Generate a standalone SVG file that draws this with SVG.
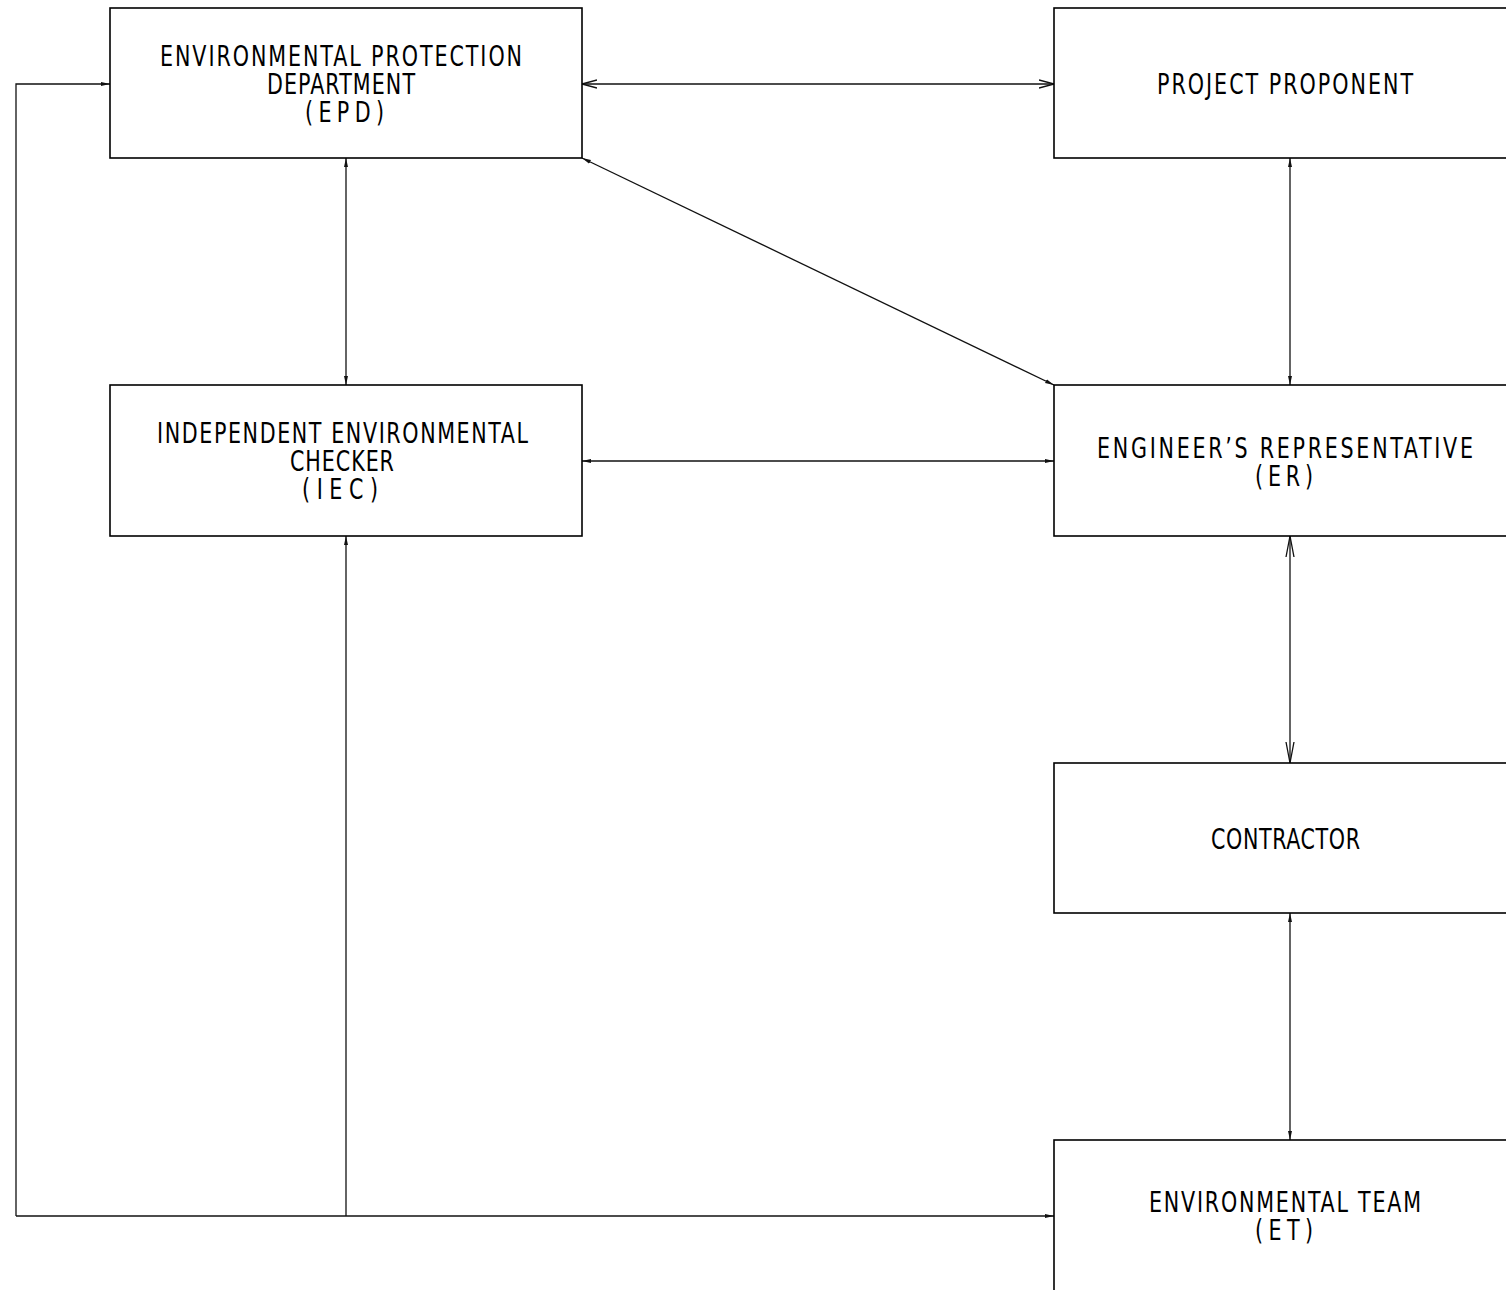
<svg xmlns="http://www.w3.org/2000/svg" width="1506" height="1290" viewBox="0 0 1506 1290">
<style>
.box{fill:#fff;stroke:#000;stroke-width:1.6}
.t{font-family:"DejaVu Sans Condensed","Liberation Sans Narrow","Liberation Sans",sans-serif;font-size:28px;fill:#000}
.c{fill:none;stroke:#111;stroke-width:1.3}
</style>
<defs>
<marker id="sf" markerUnits="userSpaceOnUse" markerWidth="10" markerHeight="6" refX="9" refY="3" orient="auto-start-reverse" viewBox="0 0 10 6">
<path d="M0,1 L9,3 L0,5 z" fill="#111"/>
</marker>
<marker id="ov" markerUnits="userSpaceOnUse" markerWidth="16" markerHeight="10" refX="15" refY="5" orient="auto-start-reverse" viewBox="0 0 16 10">
<path d="M0,1 L15,5 L0,9" fill="none" stroke="#111" stroke-width="1.3"/>
</marker>
<marker id="ol" markerUnits="userSpaceOnUse" markerWidth="22" markerHeight="10" refX="21" refY="5" orient="auto-start-reverse" viewBox="0 0 22 10">
<path d="M0,1 L21,5 L0,9" fill="none" stroke="#111" stroke-width="1.3"/>
</marker>
</defs>
<rect width="1506" height="1290" fill="#fff"/>
<g id="connectors">
<line class="c" x1="582" y1="84" x2="1054" y2="84" marker-start="url(#ov)" marker-end="url(#ov)"/>
<line class="c" x1="346" y1="158" x2="346" y2="385" marker-start="url(#sf)" marker-end="url(#sf)"/>
<line class="c" x1="582" y1="158" x2="1054" y2="385" marker-start="url(#sf)" marker-end="url(#sf)"/>
<line class="c" x1="1290" y1="158" x2="1290" y2="385" marker-start="url(#sf)" marker-end="url(#sf)"/>
<line class="c" x1="582" y1="461" x2="1054" y2="461" marker-start="url(#sf)" marker-end="url(#sf)"/>
<line class="c" x1="1290" y1="536" x2="1290" y2="763" marker-start="url(#ol)" marker-end="url(#ol)"/>
<line class="c" x1="1290" y1="913" x2="1290" y2="1140" marker-start="url(#sf)" marker-end="url(#sf)"/>
<polyline class="c" points="16,1216 16,84 110,84" marker-end="url(#sf)"/>
<line class="c" x1="16" y1="1216" x2="1054" y2="1216" marker-end="url(#sf)"/>
<line class="c" x1="346" y1="1216" x2="346" y2="536" marker-end="url(#sf)"/>
</g>
<g id="epd">
<rect class="box" x="110" y="8" width="472" height="150"/>
<text class="t" transform="translate(160,66) scale(0.82,1)" textLength="441.5" lengthAdjust="spacing">ENVIRONMENTAL PROTECTION</text>
<text class="t" transform="translate(267,94) scale(0.82,1)" textLength="180.5" lengthAdjust="spacing">DEPARTMENT</text>
<text class="t" transform="translate(305,122) scale(0.82,1)" textLength="96.3" lengthAdjust="spacing">(EPD)</text>
</g>
<g id="pp">
<rect class="box" x="1054" y="8" width="470" height="150"/>
<text class="t" transform="translate(1157,94) scale(0.82,1)" textLength="312.2" lengthAdjust="spacing">PROJECT PROPONENT</text>
</g>
<g id="iec">
<rect class="box" x="110" y="385" width="472" height="151"/>
<text class="t" transform="translate(157,443) scale(0.82,1)" textLength="452.4" lengthAdjust="spacing">INDEPENDENT ENVIRONMENTAL</text>
<text class="t" transform="translate(290,471) scale(0.82,1)" textLength="126.8" lengthAdjust="spacing">CHECKER</text>
<text class="t" transform="translate(302,499) scale(0.82,1)" textLength="92.7" lengthAdjust="spacing">(IEC)</text>
</g>
<g id="er">
<rect class="box" x="1054" y="385" width="470" height="151"/>
<text class="t" transform="translate(1097,458) scale(0.82,1)" textLength="458.5" lengthAdjust="spacing">ENGINEER’S REPRESENTATIVE</text>
<text class="t" transform="translate(1255,486) scale(0.82,1)" textLength="70.7" lengthAdjust="spacing">(ER)</text>
</g>
<g id="contractor">
<rect class="box" x="1054" y="763" width="470" height="150"/>
<text class="t" transform="translate(1211,849) scale(0.82,1)" textLength="181.7" lengthAdjust="spacing">CONTRACTOR</text>
</g>
<g id="et">
<rect class="box" x="1054" y="1140" width="470" height="170"/>
<text class="t" transform="translate(1149,1212) scale(0.82,1)" textLength="331.7" lengthAdjust="spacing">ENVIRONMENTAL TEAM</text>
<text class="t" transform="translate(1255,1240) scale(0.82,1)" textLength="70.7" lengthAdjust="spacing">(ET)</text>
</g>
</svg>
